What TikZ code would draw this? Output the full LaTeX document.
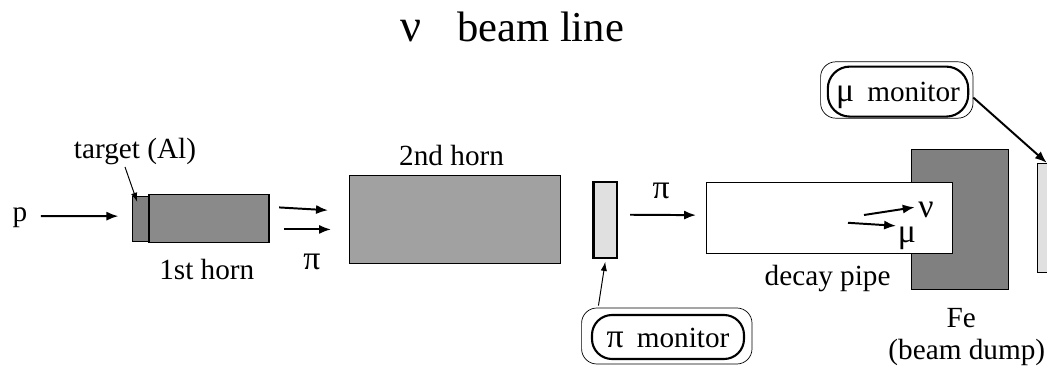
\documentclass[tikz,border=0pt]{standalone}
\usepackage{fontspec}
\usetikzlibrary{arrows.meta}
\setmainfont{Liberation Serif}
\newcommand{\grk}[1]{{\fontsize{24}{24}\selectfont #1}}
\tikzset{
	lbl/.style={anchor=base, inner sep=1pt, font=\fontsize{20.8}{24}\selectfont},
	part/.style={rectangle, draw=black, line width=0.8pt, anchor=south west, inner sep=0pt},
	monoutline/.style={rectangle, rounded corners=0.38cm, draw=black, line width=0.5pt, inner sep=0pt},
	monlabel/.style={rectangle, rounded corners=0.5cm, draw=black, line width=1.5pt, inner sep=0pt, font=\fontsize{20.8}{24}\selectfont},
	beam/.style={black, line width=1.4pt, -{Latex[length=8.5pt,width=6.5pt]}},
	pointer/.style={black, line width=0.7pt, -{Latex[length=6.5pt,width=4.5pt]}}
}
\begin{document}
\begin{tikzpicture}
\useasboundingbox (0,0) rectangle (26.175,9.15);

\node at (12.8,8.1)[anchor=base, inner sep=1pt, font=\fontsize{30.3}{36}\selectfont] (title) {{\fontsize{33}{36}\selectfont ν}\hspace{0.85em}beam line};

\node at (3.29,3.10)[part, fill=black!50, minimum height = 1.125cm, minimum width = 0.41cm] (target) {};
\node at (3.71,3.075)[part, fill=black!46, minimum height = 1.2cm, minimum width = 3cm] (firsthorn) {};
\node at (8.725,2.55)[part, fill=black!37, minimum height = 2.2cm, minimum width = 5.275cm] (secondhorn) {};
\node at (14.81,2.675)[part, line width=1.5pt, fill=black!12, minimum height = 1.9cm, minimum width = 0.59cm] (pibox) {};
\node at (22.775,1.9)[part, fill=black!50, minimum height = 3.5cm, minimum width = 2.42cm] (dump) {};
\node at (17.65,2.8)[part, fill=white, minimum height = 1.775cm, minimum width = 6.15cm] (pipe) {};
\node at (25.92,2.325)[part, fill=black!12, minimum height = 2.725cm, minimum width = 1cm] (mubox) {};

\node at (3.375,5.175)[lbl] (targetlabel) {target (Al)};
\node at (0.5,3.6)[lbl] (plabel) {p};
\node at (5.17,2.15)[lbl] (firstlabel) {1st horn};
\node at (7.8,2.4)[lbl] (pilow) {\grk{π}};
\node at (11.29,5.0)[lbl] (secondlabel) {2nd horn};
\node at (16.53,4.175)[lbl] (pihigh) {\grk{π}};
\node at (20.69,2.0)[lbl] (pipelabel) {decay pipe};
\node at (23.15,3.7)[lbl] (nulabel) {\grk{ν}};
\node at (22.67,3.075)[lbl] (mulabel) {\grk{μ}};
\node at (24.03,0.95)[lbl] (felabel) {Fe};
\node at (24.17,0.15)[lbl] (dumplabel) {(beam dump)};

\node at (16.67,0.75)[monoutline, minimum height = 1.4cm, minimum width = 4.26cm] (pimonouter) {};
\node at (16.7,0.725)[monlabel, minimum height = 1.1cm, minimum width = 3.8cm] (pimon) {\raisebox{-0.03cm}[\height][\depth]{\grk{π}\hspace{0.45em}monitor}};
\node at (22.42,6.9)[monoutline, minimum height = 1.41cm, minimum width = 3.81cm] (mumonouter) {};
\node at (22.45,6.86)[monlabel, rounded corners=0.55cm, minimum height = 1.25cm, minimum width = 3.51cm] (mumon) {\raisebox{-0.1cm}[\height][\depth]{\grk{μ}\hspace{0.45em}monitor}};

\coordinate (nufrom) at (21.6,3.775);
\coordinate (mufrom) at (21.2,3.58);

\draw[beam] ([xshift=0.3cm,yshift=0.05cm]plabel.east) -- ([xshift=-0.33cm,yshift=0.07cm]target.west);
\draw[pointer] ([xshift=-0.25cm]targetlabel.south) -- ([xshift=-0.08cm,yshift=-0.15cm]target.north);
\draw[beam] ([xshift=0.24cm,yshift=0.275cm]firsthorn.east) -- ([xshift=-0.525cm,yshift=0.23cm]secondhorn.west);
\draw[beam] ([xshift=0.36cm,yshift=-0.275cm]firsthorn.east) -- ([xshift=-0.45cm,yshift=-0.25cm]secondhorn.west);
\draw[beam] ([xshift=0.3cm,yshift=0.13cm]pibox.east) -- ([xshift=-0.25cm,yshift=0.07cm]pipe.west);
\draw[pointer] ([xshift=0.43cm,yshift=0.05cm]pimonouter.north west) -- ([yshift=-0.07cm]pibox.south);
\draw[beam] ([yshift=-0.19cm]mumonouter.east) -- ([xshift=0.25cm]mubox.north west);
\draw[beam] (nufrom) -- ([xshift=-0.05cm,yshift=0.08cm]nulabel.west);
\draw[beam] (mufrom) -- (mulabel.north west);
\end{tikzpicture}
\end{document}
